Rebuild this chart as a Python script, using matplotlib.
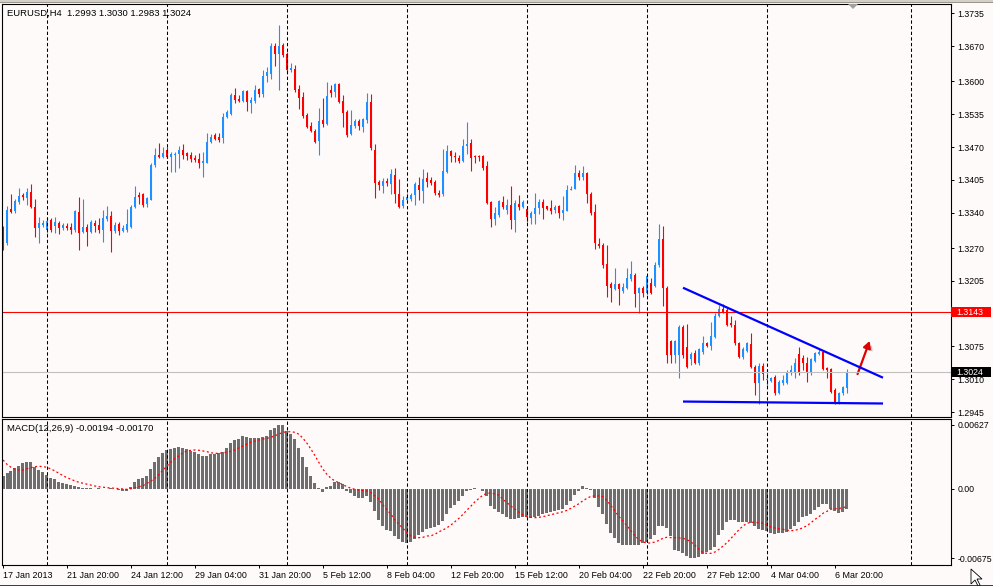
import numpy as np
import matplotlib
matplotlib.use("Agg")
import matplotlib.pyplot as plt
from matplotlib.patches import Rectangle, Polygon, FancyArrowPatch
import matplotlib.patheffects as pe
import matplotlib.transforms as mtransforms

plt.rcParams['font.family'] = ['Liberation Sans', 'DejaVu Sans']

# ---- data: EURUSD H4, 17 Jan 2013 04:00 .. 7 Mar 2013 08:00 ----
opens = [
    1.3310, 1.3280, 1.3347, 1.3343, 1.3361, 1.3375, 1.3369, 1.3381, 1.3351, 1.3310,
    1.3316, 1.3306, 1.3326, 1.3314, 1.3320, 1.3310, 1.3314, 1.3312, 1.3306, 1.3341,
    1.3302, 1.3312, 1.3302, 1.3320, 1.3316, 1.3306, 1.3327, 1.3333, 1.3304, 1.3318,
    1.3304, 1.3306, 1.3312, 1.3351, 1.3375, 1.3377, 1.3357, 1.3365, 1.3434, 1.3454,
    1.3450, 1.3464, 1.3450, 1.3454, 1.3456, 1.3464, 1.3458, 1.3454, 1.3448, 1.3446,
    1.3438, 1.3438, 1.3480, 1.3494, 1.3490, 1.3488, 1.3530, 1.3536, 1.3573, 1.3565,
    1.3561, 1.3581, 1.3557, 1.3561, 1.3585, 1.3575, 1.3611, 1.3615, 1.3670, 1.3654,
    1.3672, 1.3654, 1.3623, 1.3625, 1.3585, 1.3569, 1.3534, 1.3512, 1.3502, 1.3482,
    1.3524, 1.3516, 1.3583, 1.3579, 1.3595, 1.3561, 1.3539, 1.3496, 1.3512, 1.3522,
    1.3510, 1.3524, 1.3559, 1.3464, 1.3401, 1.3393, 1.3403, 1.3397, 1.3415, 1.3377,
    1.3353, 1.3365, 1.3367, 1.3375, 1.3395, 1.3383, 1.3409, 1.3405, 1.3401, 1.3379,
    1.3377, 1.3421, 1.3462, 1.3452, 1.3448, 1.3442, 1.3472, 1.3478, 1.3452, 1.3452,
    1.3452, 1.3432, 1.3361, 1.3327, 1.3335, 1.3361, 1.3345, 1.3355, 1.3326, 1.3357,
    1.3351, 1.3347, 1.3329, 1.3337, 1.3349, 1.3361, 1.3353, 1.3349, 1.3345, 1.3353,
    1.3339, 1.3343, 1.3385, 1.3387, 1.3419, 1.3411, 1.3419, 1.3377, 1.3341, 1.3278,
    1.3276, 1.3238, 1.3199, 1.3189, 1.3199, 1.3185, 1.3191, 1.3209, 1.3217, 1.3181,
    1.3191, 1.3181, 1.3201, 1.3195, 1.3236, 1.3288, 1.3191, 1.3086, 1.3058, 1.3058,
    1.3113, 1.3074, 1.3050, 1.3062, 1.3042, 1.3064, 1.3082, 1.3076, 1.3094, 1.3135,
    1.3149, 1.3147, 1.3121, 1.3117, 1.3082, 1.3054, 1.3066, 1.3080, 1.3034, 1.3003,
    1.3036, 1.3008, 1.3006, 1.3014, 1.2983, 1.3003, 1.3003, 1.3022, 1.3022, 1.3060,
    1.3052, 1.3042, 1.3022, 1.3046, 1.3060, 1.3064, 1.3032, 1.3030, 1.2989, 1.2963,
    1.2983, 1.2993,
]
highs = [
    1.3314, 1.3353, 1.3377, 1.3367, 1.3389, 1.3379, 1.3389, 1.3397, 1.3367, 1.3331,
    1.3326, 1.3331, 1.3329, 1.3331, 1.3324, 1.3320, 1.3320, 1.3320, 1.3345, 1.3371,
    1.3367, 1.3318, 1.3326, 1.3326, 1.3329, 1.3345, 1.3353, 1.3343, 1.3322, 1.3322,
    1.3316, 1.3347, 1.3355, 1.3393, 1.3381, 1.3379, 1.3371, 1.3438, 1.3468, 1.3478,
    1.3470, 1.3470, 1.3460, 1.3460, 1.3472, 1.3476, 1.3460, 1.3460, 1.3454, 1.3458,
    1.3460, 1.3498, 1.3496, 1.3498, 1.3498, 1.3538, 1.3543, 1.3577, 1.3587, 1.3573,
    1.3583, 1.3583, 1.3569, 1.3593, 1.3587, 1.3623, 1.3629, 1.3676, 1.3676, 1.3712,
    1.3676, 1.3658, 1.3637, 1.3633, 1.3593, 1.3579, 1.3538, 1.3520, 1.3506, 1.3547,
    1.3567, 1.3599, 1.3593, 1.3597, 1.3597, 1.3573, 1.3543, 1.3543, 1.3526, 1.3526,
    1.3528, 1.3577, 1.3575, 1.3476, 1.3405, 1.3409, 1.3409, 1.3427, 1.3429, 1.3407,
    1.3373, 1.3379, 1.3379, 1.3401, 1.3411, 1.3427, 1.3421, 1.3411, 1.3405, 1.3385,
    1.3466, 1.3474, 1.3464, 1.3460, 1.3454, 1.3486, 1.3520, 1.3486, 1.3454, 1.3454,
    1.3454, 1.3442, 1.3363, 1.3351, 1.3365, 1.3373, 1.3367, 1.3393, 1.3365, 1.3375,
    1.3365, 1.3351, 1.3343, 1.3379, 1.3367, 1.3367, 1.3353, 1.3365, 1.3355, 1.3355,
    1.3373, 1.3395, 1.3393, 1.3434, 1.3425, 1.3432, 1.3421, 1.3381, 1.3357, 1.3290,
    1.3280, 1.3276, 1.3203, 1.3230, 1.3201, 1.3201, 1.3230, 1.3245, 1.3221, 1.3193,
    1.3195, 1.3217, 1.3211, 1.3242, 1.3318, 1.3314, 1.3195, 1.3088, 1.3088, 1.3117,
    1.3117, 1.3119, 1.3064, 1.3068, 1.3072, 1.3096, 1.3084, 1.3123, 1.3141, 1.3157,
    1.3159, 1.3151, 1.3135, 1.3127, 1.3084, 1.3074, 1.3084, 1.3102, 1.3038, 1.3042,
    1.3042, 1.3030, 1.3014, 1.3018, 1.3008, 1.3018, 1.3028, 1.3038, 1.3052, 1.3074,
    1.3058, 1.3054, 1.3052, 1.3064, 1.3070, 1.3068, 1.3034, 1.3032, 1.2993, 1.2985,
    1.2997, 1.3030,
]
lows = [
    1.3266, 1.3276, 1.3339, 1.3339, 1.3357, 1.3365, 1.3355, 1.3349, 1.3292, 1.3280,
    1.3312, 1.3300, 1.3302, 1.3300, 1.3298, 1.3306, 1.3306, 1.3298, 1.3302, 1.3266,
    1.3300, 1.3274, 1.3300, 1.3302, 1.3300, 1.3282, 1.3324, 1.3262, 1.3300, 1.3296,
    1.3302, 1.3302, 1.3310, 1.3349, 1.3357, 1.3351, 1.3351, 1.3365, 1.3431, 1.3448,
    1.3448, 1.3448, 1.3421, 1.3421, 1.3429, 1.3446, 1.3444, 1.3440, 1.3440, 1.3429,
    1.3411, 1.3438, 1.3478, 1.3484, 1.3480, 1.3478, 1.3528, 1.3534, 1.3557, 1.3559,
    1.3559, 1.3541, 1.3538, 1.3557, 1.3569, 1.3569, 1.3599, 1.3605, 1.3631, 1.3583,
    1.3648, 1.3619, 1.3619, 1.3579, 1.3545, 1.3528, 1.3508, 1.3500, 1.3478, 1.3454,
    1.3510, 1.3514, 1.3569, 1.3569, 1.3557, 1.3510, 1.3490, 1.3494, 1.3508, 1.3504,
    1.3500, 1.3518, 1.3464, 1.3369, 1.3385, 1.3379, 1.3393, 1.3377, 1.3359, 1.3349,
    1.3349, 1.3361, 1.3363, 1.3355, 1.3365, 1.3359, 1.3391, 1.3395, 1.3375, 1.3371,
    1.3373, 1.3419, 1.3440, 1.3440, 1.3438, 1.3440, 1.3456, 1.3423, 1.3438, 1.3442,
    1.3425, 1.3357, 1.3312, 1.3316, 1.3331, 1.3347, 1.3337, 1.3308, 1.3302, 1.3345,
    1.3349, 1.3322, 1.3318, 1.3318, 1.3337, 1.3327, 1.3345, 1.3337, 1.3339, 1.3329,
    1.3326, 1.3343, 1.3385, 1.3387, 1.3405, 1.3405, 1.3359, 1.3335, 1.3268, 1.3270,
    1.3230, 1.3173, 1.3163, 1.3187, 1.3157, 1.3181, 1.3189, 1.3205, 1.3153, 1.3141,
    1.3173, 1.3177, 1.3179, 1.3193, 1.3232, 1.3155, 1.3042, 1.3042, 1.3042, 1.3012,
    1.3052, 1.3032, 1.3038, 1.3040, 1.3038, 1.3060, 1.3074, 1.3068, 1.3092, 1.3133,
    1.3141, 1.3115, 1.3113, 1.3078, 1.3052, 1.3050, 1.3064, 1.3032, 1.2979, 1.2961,
    1.3008, 1.2997, 1.3005, 1.2979, 1.2981, 1.2999, 1.3001, 1.3018, 1.3012, 1.3018,
    1.3028, 1.3005, 1.3018, 1.3044, 1.3058, 1.3028, 1.3012, 1.2983, 1.2961, 1.2961,
    1.2979, 1.2983,
]
closes = [
    1.3270, 1.3345, 1.3341, 1.3363, 1.3373, 1.3371, 1.3381, 1.3351, 1.3310, 1.3320,
    1.3320, 1.3324, 1.3306, 1.3322, 1.3310, 1.3316, 1.3310, 1.3306, 1.3343, 1.3300,
    1.3312, 1.3302, 1.3322, 1.3314, 1.3306, 1.3329, 1.3333, 1.3304, 1.3316, 1.3304,
    1.3310, 1.3318, 1.3351, 1.3371, 1.3371, 1.3355, 1.3369, 1.3434, 1.3454, 1.3450,
    1.3458, 1.3450, 1.3456, 1.3456, 1.3464, 1.3454, 1.3452, 1.3446, 1.3444, 1.3438,
    1.3442, 1.3480, 1.3490, 1.3486, 1.3484, 1.3530, 1.3539, 1.3573, 1.3563, 1.3561,
    1.3581, 1.3559, 1.3563, 1.3583, 1.3575, 1.3611, 1.3619, 1.3670, 1.3654, 1.3670,
    1.3652, 1.3623, 1.3627, 1.3583, 1.3567, 1.3532, 1.3510, 1.3502, 1.3480, 1.3522,
    1.3516, 1.3571, 1.3577, 1.3595, 1.3559, 1.3538, 1.3494, 1.3514, 1.3522, 1.3512,
    1.3526, 1.3559, 1.3468, 1.3399, 1.3395, 1.3403, 1.3399, 1.3417, 1.3377, 1.3351,
    1.3365, 1.3371, 1.3375, 1.3397, 1.3385, 1.3407, 1.3401, 1.3399, 1.3379, 1.3375,
    1.3423, 1.3462, 1.3452, 1.3450, 1.3442, 1.3472, 1.3476, 1.3448, 1.3450, 1.3450,
    1.3429, 1.3359, 1.3327, 1.3339, 1.3363, 1.3351, 1.3355, 1.3326, 1.3359, 1.3351,
    1.3361, 1.3331, 1.3339, 1.3349, 1.3361, 1.3349, 1.3347, 1.3343, 1.3351, 1.3339,
    1.3345, 1.3385, 1.3387, 1.3419, 1.3411, 1.3419, 1.3377, 1.3339, 1.3280, 1.3274,
    1.3236, 1.3195, 1.3191, 1.3199, 1.3189, 1.3193, 1.3211, 1.3219, 1.3179, 1.3191,
    1.3181, 1.3215, 1.3181, 1.3236, 1.3288, 1.3191, 1.3058, 1.3058, 1.3086, 1.3113,
    1.3058, 1.3034, 1.3060, 1.3042, 1.3070, 1.3082, 1.3076, 1.3096, 1.3135, 1.3149,
    1.3143, 1.3117, 1.3117, 1.3082, 1.3054, 1.3070, 1.3082, 1.3034, 1.3003, 1.3036,
    1.3020, 1.3010, 1.3012, 1.2983, 1.3005, 1.3008, 1.3024, 1.3028, 1.3042, 1.3022,
    1.3042, 1.3022, 1.3050, 1.3062, 1.3064, 1.3030, 1.3028, 1.2985, 1.2963, 1.2983,
    1.2995, 1.3024,
]

# MACD(12,26,9) main (histogram) and signal, in points (1e-5)
macd_pts = [
    127, 153, 176, 202, 227, 251, 266, 266, 212, 185, 163, 137, 110, 95, 71, 56,
    46, 39, 32, 22, 13, 7, 7, 3, 7, 3, 3, 5, 3, -13, -20, -17, 20, 71, 98, 104,
    127, 192, 261, 309, 354, 381, 390, 403, 410, 400, 388, 368, 358, 339, 322, 325,
    339, 345, 348, 358, 400, 446, 475, 485, 517, 505, 501, 501, 495, 505, 517, 576,
    592, 627, 620, 566, 537, 485, 400, 315, 212, 127, 56, 7, -26, 17, 32, 65,
    71, 49, -22, -42, -68, -91, -91, -65, -124, -215, -303, -358, -400, -407, -456, -491,
    -520, -524, -520, -491, -449, -417, -390, -378, -368, -354, -312, -244, -183, -156, -114, -68,
    -22, -10, 7, 2, -20, -68, -166, -195, -224, -247, -270, -296, -293, -286, -270, -276,
    -280, -276, -261, -247, -231, -222, -215, -205, -195, -156, -114, -59, -17, 26, 13, -10,
    -91, -173, -244, -342, -427, -475, -524, -544, -544, -544, -547, -544, -530, -514, -488, -449,
    -361, -358, -384, -459, -595, -602, -622, -651, -671, -675, -661, -634, -612, -595, -563, -449,
    -400, -319, -303, -303, -319, -325, -319, -335, -361, -390, -400, -407, -427, -442, -432, -427,
    -417, -393, -358, -325, -270, -261, -247, -205, -179, -149, -149, -195, -215, -234, -229, -194,
]
signal_pts = [
    283, 241, 212, 192, 185, 185, 198, 208, 218, 222, 218, 212, 195, 176, 153, 130,
    110, 95, 78, 65, 56, 46, 39, 29, 22, 17, 13, 10, 7, 3, 0, -3, 3, 13, 22, 32,
    56, 78, 104, 143, 185, 224, 261, 300, 325, 354, 371, 378, 381, 378, 371, 364,
    354, 348, 348, 354, 358, 368, 381, 403, 420, 439, 456, 468, 478, 488, 495, 505,
    520, 537, 553, 559, 559, 553, 534, 495, 446, 388, 325, 257, 192, 143, 104, 78,
    61, 42, 22, 7, -3, -10, -17, -20, -36, -68, -101, -156, -205, -247, -303, -345,
    -384, -427, -459, -471, -475, -471, -459, -456, -442, -417, -400, -378, -351, -319, -286, -247,
    -205, -166, -124, -91, -59, -42, -39, -49, -61, -101, -134, -166, -198, -227, -254, -270,
    -276, -280, -276, -270, -261, -251, -241, -231, -222, -208, -188, -166, -143, -114, -91, -71,
    -68, -68, -75, -114, -163, -215, -270, -312, -361, -407, -459, -495, -517, -527, -527, -517,
    -501, -481, -471, -475, -475, -478, -481, -495, -517, -550, -589, -622, -628, -628, -615, -589,
    -556, -524, -481, -439, -397, -361, -335, -325, -325, -329, -335, -354, -371, -381, -388, -393,
    -403, -407, -403, -393, -378, -358, -329, -296, -270, -237, -218, -198, -192, -190, -183, -170,
]

date_labels = ["17 Jan 2013", "21 Jan 20:00", "24 Jan 12:00", "29 Jan 04:00",
               "31 Jan 20:00", "5 Feb 12:00", "8 Feb 04:00", "12 Feb 20:00",
               "15 Feb 12:00", "20 Feb 04:00", "22 Feb 20:00", "27 Feb 12:00",
               "4 Mar 04:00", "6 Mar 20:00"]
date_bars = [0, 16, 32, 48, 64, 80, 96, 112, 128, 144, 160, 176, 192, 208]
week_bars = [11, 41, 71, 101, 131, 161, 191, 227]   # Monday 00:00 separators
price_ticks = [1.3735, 1.3670, 1.3600, 1.3535, 1.3470, 1.3405, 1.3340,
               1.3270, 1.3205, 1.3075, 1.3010, 1.2945]
alert_level = 1.3143
macd_max, macd_min = 0.00627, -0.00675

# hand-drawn objects
upper_trend = ([170, 220], [1.31913, 1.30130])
lower_trend = ([170, 220], [1.29658, 1.29619])
arrow_from = (213.4, 1.3015)
arrow_to = (216.9, 1.3091)

# ---- layout (pixel based) ----
W, H = 993, 586
BG = '#FFFAFA'
fig = plt.figure(figsize=(W / 100, H / 100), dpi=100, facecolor=BG)

def box(left, top, right, bottom):
    return [left / W, 1 - bottom / H, (right - left) / W, (bottom - top) / H]

ax = fig.add_axes(box(2, 4, 951.5, 416.5), facecolor=BG)
ax2 = fig.add_axes(box(2, 418.5, 951.5, 565), facecolor=BG, sharex=ax)

x = np.arange(len(closes))
o = np.array(opens)
c = np.array(closes)
hi = np.array(highs)
lo = np.array(lows)
up = c >= o
cols = np.where(up, '#1E90FF', '#FF0000')

ax.vlines(x, lo, hi, colors=cols, lw=0.8)
body_lo = np.minimum(o, c)
body_h = np.maximum(np.abs(c - o), 0.00015)
ax.bar(x, body_h, bottom=body_lo, width=0.72, color=cols, linewidth=0)

dash = (0, (3.2, 2.2))
for wb in week_bars:
    ax.axvline(wb, color='black', lw=0.75, linestyle=dash)
    ax2.axvline(wb, color='black', lw=0.75, linestyle=dash)

ax.axhline(alert_level, color='#FF0000', lw=0.8)
ax.axhline(closes[-1], color='#C0C0C0', lw=0.8)

ax.plot(*upper_trend, color='#0000FF', lw=1.6, solid_capstyle='butt')
ax.plot(*lower_trend, color='#0000FF', lw=1.6, solid_capstyle='butt')

arr = FancyArrowPatch(arrow_from, arrow_to, arrowstyle='-|>,head_length=4,head_width=2.2',
                      color='#E00000', lw=1.6, mutation_scale=1,
                      path_effects=[pe.SimplePatchShadow(offset=(2, -1.5), shadow_rgbFace='#777777', alpha=0.45),
                                    pe.Normal()])
ax.add_patch(arr)

ax.set_xlim(-0.25, 237.125)
ax.set_ylim(1.293615, 1.37535)

for a in (ax, ax2):
    for s in a.spines.values():
        s.set_color('black')
        s.set_linewidth(0.8)
    a.yaxis.tick_right()
    a.tick_params(axis='y', direction='out', length=2.5, width=0.7, pad=1.8,
                  labelsize=6.3, colors='black')

ax.set_yticks(price_ticks)
ax.set_yticklabels([f"{p:.4f}" for p in price_ticks])
ax.tick_params(axis='x', bottom=False, labelbottom=False)

# price flags on the scale (box from the scale line to x~991 px)
flag_tr = mtransforms.blended_transform_factory(ax.transAxes, ax.transData)
px_y = (1.37535 - 1.293615) / 412.5
flag_w = (991 - 951.5) / (951.5 - 2)
for level, fc in [(alert_level, '#FF0000'), (closes[-1], '#000000')]:
    ax.add_patch(Rectangle((1.0, level - 4.8 * px_y), flag_w, 9.6 * px_y,
                           transform=flag_tr, fc=fc, ec='none', clip_on=False, zorder=9))
    ax.text(1.0 + 5 / 949.5, level, f"{level:.4f}", transform=flag_tr, ha='left',
            va='center', fontsize=6.3, color='white', clip_on=False, zorder=10)

ax.text(5 / 949.5, 1 - 9 / 412.5,
        f"EURUSD,H4  {opens[-1]:.4f} {highs[-1]:.4f} {lows[-1]:.4f} {closes[-1]:.4f}",
        transform=ax.transAxes, ha='left', va='center', fontsize=6.8)

# ---- MACD panel ----
macd = np.array(macd_pts) * 1e-5
sig = np.array(signal_pts) * 1e-5
ax2.bar(x, macd, width=0.75, color='#6E6E6E', linewidth=0)
ax2.plot(x, sig, color='#FF0000', lw=0.9, linestyle=(0, (1.6, 2.0)))
ax2.set_ylim(-0.007418, 0.006881)
ax2.set_yticks([macd_max, 0.0, macd_min])
ax2.set_yticklabels([f"{macd_max:.5f}", "0.00", f"{macd_min:.5f}"])
ax2.text(5 / 949.5, 1 - 10 / 146.5,
         f"MACD(12,26,9) {macd[-1]:.5f} {sig[-1]:.5f}",
         transform=ax2.transAxes, ha='left', va='center', fontsize=6.8)

ax2.set_xticks(date_bars)
ax2.set_xticklabels(date_labels)
ax2.tick_params(axis='x', direction='out', length=2.5, width=0.7, pad=1.5,
                labelsize=6.4, colors='black')
for lab in ax2.get_xticklabels():
    lab.set_ha('left')

# ---- window chrome ----
fig.add_artist(Rectangle((0, 1 - 3 / H), 1, 3 / H, transform=fig.transFigure,
                         fc='#D4D0C8', ec='none'))
fig.add_artist(Rectangle((0, 1 - 3 / H), 1, 1 / H, transform=fig.transFigure,
                         fc='#9A968E', ec='none'))
fig.add_artist(Polygon([(848 / W, 1 - 4 / H), (858 / W, 1 - 4 / H), (853 / W, 1 - 9 / H)],
                       closed=True, transform=fig.transFigure, fc='#A0A0A0', ec='none'))
fig.add_artist(Rectangle((0, 0), 1, 1.2 / H, transform=fig.transFigure,
                         fc='#404040', ec='none'))
# mouse pointer
cur = [(971, 569), (971, 584), (975, 580), (978, 586), (980, 585), (977, 579), (982, 579)]
fig.add_artist(Polygon([(px / W, 1 - py / H) for px, py in cur], closed=True,
                       transform=fig.transFigure, fc='white', ec='black', lw=0.6))

fig.savefig('out.png', dpi=100, facecolor=BG)
